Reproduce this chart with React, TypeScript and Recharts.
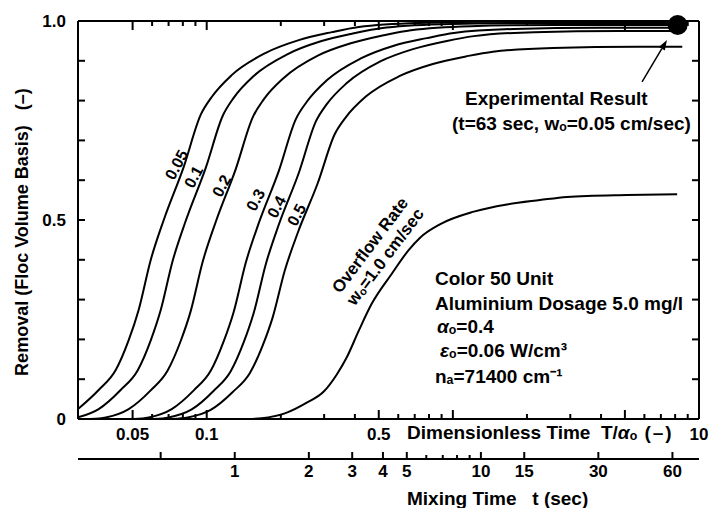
import React from "react";
import { LineChart, Line, XAxis, YAxis, ReferenceDot, ReferenceLine } from "recharts";

const FONT = '"Liberation Sans", Arial, Helvetica, sans-serif';

// removal vs dimensionless time T/a0, one curve per overflow rate w0 (cm/sec)
const w005: Array<[number, number]> = [
  [0.03, 0.025], [0.0364, 0.073], [0.0427, 0.123], [0.0482, 0.198], [0.0529, 0.274], [0.0592, 0.399],
  [0.0669, 0.5], [0.0806, 0.633], [0.0945, 0.764], [0.1048, 0.809], [0.1263, 0.864], [0.1738, 0.92],
  [0.2366, 0.952], [0.3221, 0.972], [0.4148, 0.985], [0.7276, 0.995], [1.534, 0.998], [7.9, 0.998],
];
const w01: Array<[number, number]> = [
  [0.03, 0.004], [0.0364, 0.025], [0.0447, 0.073], [0.0524, 0.122], [0.0592, 0.197], [0.065, 0.273],
  [0.0727, 0.397], [0.0822, 0.498], [0.0991, 0.631], [0.1162, 0.762], [0.1287, 0.807], [0.1553, 0.862],
  [0.2135, 0.917], [0.2907, 0.949], [0.396, 0.969], [0.5097, 0.982], [0.8938, 0.992], [1.981, 0.995], [7.9, 0.995],
];
const w02: Array<[number, number]> = [
  [0.0338, 0], [0.0389, 0.004], [0.0482, 0.025], [0.0592, 0.072], [0.0694, 0.122], [0.0784, 0.196],
  [0.0861, 0.271], [0.0963, 0.395], [0.1088, 0.495], [0.1312, 0.628], [0.1538, 0.758], [0.1705, 0.803],
  [0.2056, 0.857], [0.2827, 0.913], [0.3849, 0.944], [0.5243, 0.964], [0.675, 0.977], [1.184, 0.987],
  [2.622, 0.99], [7.9, 0.99],
];
const w03: Array<[number, number]> = [
  [0.0505, 0], [0.0581, 0.004], [0.0721, 0.025], [0.0886, 0.072], [0.1038, 0.121], [0.1172, 0.195],
  [0.1287, 0.269], [0.144, 0.392], [0.1627, 0.492], [0.1962, 0.623], [0.23, 0.753], [0.255, 0.797],
  [0.3075, 0.851], [0.4227, 0.906], [0.5756, 0.938], [0.7842, 0.957], [1.009, 0.97], [1.77, 0.98],
  [3.925, 0.983], [7.9, 0.983],
];
const w04: Array<[number, number]> = [
  [0.0609, 0], [0.0701, 0.004], [0.0869, 0.024], [0.1068, 0.071], [0.1252, 0.12], [0.1414, 0.193],
  [0.1553, 0.267], [0.1738, 0.389], [0.1962, 0.488], [0.2366, 0.618], [0.2774, 0.747], [0.3075, 0.791],
  [0.3708, 0.844], [0.5097, 0.899], [0.6942, 0.93], [0.9454, 0.95], [1.217, 0.962], [2.135, 0.972],
  [4.729, 0.975], [7.9, 0.975],
];
const w05: Array<[number, number]> = [
  [0.0727, 0], [0.0837, 0.004], [0.1038, 0.023], [0.1276, 0.068], [0.1496, 0.115], [0.1689, 0.185],
  [0.1855, 0.256], [0.2076, 0.373], [0.2344, 0.468], [0.2827, 0.593], [0.3314, 0.716], [0.3673, 0.758],
  [0.443, 0.81], [0.6088, 0.862], [0.8293, 0.892], [1.129, 0.911], [1.454, 0.923], [2.55, 0.932],
  [5.649, 0.935], [8.55, 0.935],
];
const w10: Array<[number, number]> = [
  [0.1455, 0], [0.1673, 0.002], [0.2076, 0.014], [0.255, 0.041], [0.2989, 0.069], [0.3377, 0.112],
  [0.3708, 0.155], [0.4148, 0.222], [0.4685, 0.29], [0.5649, 0.365], [0.6625, 0.425], [0.7341, 0.455],
  [0.8855, 0.489], [1.217, 0.521], [1.658, 0.539], [2.258, 0.55], [2.907, 0.558], [5.097, 0.563], [8.15, 0.565],
];

const curves = [w005, w01, w02, w03, w04, w05, w10];

// experimental point: t = 63 sec, removal ~0.99
const expTime = 63;
const expRemoval = 0.99;
// T/a0 per second of mixing time
const timeRatio = 0.13;

const dimDomain = [0.03, 10];
const mixDomain = [dimDomain[0] / timeRatio, dimDomain[1] / timeRatio];

const dimTicks = [0.05, 0.06, 0.07, 0.08, 0.09, 0.1, 0.2, 0.3, 0.4, 0.5, 0.6, 0.7, 0.8, 0.9, 1, 2, 3, 4, 5, 6, 7, 8, 9, 10];
const dimMajor = [0.05, 0.1, 0.5, 1, 5, 10];
const dimLabels: Record<string, string> = { "0.05": "0.05", "0.1": "0.1", "0.5": "0.5", "10": "10" };

const mixTicks = [0.5, 1, 2, 3, 4, 5, 6, 7, 8, 9, 10, 15, 30, 60];
const mixLabels = [1, 2, 3, 4, 5, 10, 15, 30, 60];

const yTicks = [0, 0.1, 0.2, 0.3, 0.4, 0.5, 0.6, 0.7, 0.8, 0.9, 1];
const yLabels: Record<string, string> = { "0": "0", "0.5": "0.5", "1": "1.0" };

const expPoint = [{ x: expTime, y: expRemoval }];
const expPointDim = [{ x: expTime * timeRatio, y: expRemoval }];

const axisStyle = { stroke: "#000", strokeWidth: 2 };
const tickText = { fontFamily: FONT, fontWeight: 700, fontSize: 17, fill: "#000" };

const BottomTick = (p: any) => {
  const v = p.payload.value;
  const len = dimMajor.includes(v) ? 9 : 5;
  const lab = dimLabels[String(v)];
  return (
    <g>
      <line x1={p.x} x2={p.x} y1={p.y} y2={p.y - len} stroke="#000" strokeWidth={2} />
      {lab && (
        <text x={p.x} y={p.y + 15} textAnchor="middle" dominantBaseline="central" {...tickText}>{lab}</text>
      )}
    </g>
  );
};

const TopTick = (p: any) => {
  const v = p.payload.value;
  const len = dimMajor.includes(v) ? 9 : 5;
  return <line x1={p.x} x2={p.x} y1={p.y} y2={p.y + len} stroke="#000" strokeWidth={2} />;
};

const MixTick = (p: any) => {
  const v = p.payload.value;
  const labeled = mixLabels.includes(v);
  const len = labeled || v === 0.5 ? 7 : 4;
  return (
    <g>
      <line x1={p.x} x2={p.x} y1={p.y} y2={p.y - len} stroke="#000" strokeWidth={2} />
      {labeled && (
        <text x={p.x} y={p.y + 12} textAnchor="middle" dominantBaseline="central" {...tickText}>{v}</text>
      )}
    </g>
  );
};

const LeftTick = (p: any) => {
  const v = p.payload.value;
  const lab = yLabels[String(v)];
  return (
    <g>
      <line x1={p.x} x2={p.x + 7} y1={p.y} y2={p.y} stroke="#000" strokeWidth={2} />
      {lab && (
        <text x={p.x - 12} y={p.y} textAnchor="end" dominantBaseline="central" {...tickText}>{lab}</text>
      )}
    </g>
  );
};

const RightTick = (p: any) => (
  <line x1={p.x} x2={p.x - 7} y1={p.y} y2={p.y} stroke="#000" strokeWidth={2} />
);

const Arrow = (p: any) => {
  const { x1, y1, x2, y2 } = p;
  const a = Math.atan2(y2 - y1, x2 - x1);
  const bx = x2 - 10 * Math.cos(a);
  const by = y2 - 10 * Math.sin(a);
  const s = Math.sin(a) * 3.5;
  const c = Math.cos(a) * 3.5;
  return (
    <g>
      <line x1={x1} y1={y1} x2={bx} y2={by} stroke="#000" strokeWidth={1.5} />
      <polygon points={`${x2},${y2} ${bx + s},${by - c} ${bx - s},${by + c}`} fill="#000" />
    </g>
  );
};

const Sub = ({ c }: { c: string }) => (
  <span style={{ fontSize: "0.65em", verticalAlign: "-0.1em" }}>{c}</span>
);

const base: React.CSSProperties = {
  position: "absolute",
  fontFamily: FONT,
  fontWeight: 700,
  color: "#000",
  whiteSpace: "pre",
  lineHeight: 1,
};

const at = (cx: number, cy: number, rot = 0, size = 17): React.CSSProperties => ({
  ...base,
  left: cx,
  top: cy,
  fontSize: size,
  transform: `translate(-50%, -50%) rotate(${rot}deg)`,
});

const left = (x: number, cy: number, size = 19): React.CSSProperties => ({
  ...base,
  left: x,
  top: cy,
  fontSize: size,
  transform: "translateY(-50%)",
});

const curveLabels: Array<[string, number, number]> = [
  ["0.05", 177, 165],
  ["0.1", 194, 177],
  ["0.2", 222, 186],
  ["0.3", 256, 200],
  ["0.4", 277, 207],
  ["0.5", 297, 215],
];

export default function App() {
  return (
    <div style={{ position: "absolute", left: 0, top: 0, width: 709, height: 508, background: "#fff" }}>
      <LineChart width={709} height={508} margin={{ top: 16, right: 8, bottom: 0, left: 18 }}>
        <XAxis
          dataKey="x"
          type="number"
          scale="log"
          domain={dimDomain}
          allowDataOverflow
          ticks={dimTicks}
          interval={0}
          tickSize={0}
          tickMargin={0}
          height={40}
          axisLine={axisStyle}
          tickLine={false}
          tick={<BottomTick />}
        />
        <XAxis
          xAxisId="t"
          dataKey="x"
          type="number"
          scale="log"
          domain={mixDomain}
          allowDataOverflow
          ticks={mixTicks}
          interval={0}
          tickSize={0}
          tickMargin={0}
          height={49}
          axisLine={axisStyle}
          tickLine={false}
          tick={<MixTick />}
        />
        <XAxis
          xAxisId="top"
          dataKey="x"
          orientation="top"
          type="number"
          scale="log"
          domain={dimDomain}
          allowDataOverflow
          ticks={dimTicks}
          interval={0}
          tickSize={0}
          tickMargin={0}
          height={5}
          axisLine={axisStyle}
          tickLine={false}
          tick={<TopTick />}
        />
        <YAxis
          type="number"
          domain={[0, 1]}
          allowDataOverflow
          ticks={yTicks}
          interval={0}
          width={60}
          tickSize={0}
          tickMargin={0}
          axisLine={axisStyle}
          tickLine={false}
          tick={<LeftTick />}
        />
        <YAxis
          yAxisId="r"
          orientation="right"
          type="number"
          domain={[0, 1]}
          allowDataOverflow
          ticks={yTicks}
          interval={0}
          width={2}
          tickSize={0}
          tickMargin={0}
          axisLine={axisStyle}
          tickLine={false}
          tick={<RightTick />}
        />
        {curves.map((c, i) => (
          <Line
            key={i}
            data={c.map((p) => ({ x: p[0], y: p[1] }))}
            dataKey="y"
            type="monotone"
            stroke="#000"
            strokeWidth={2}
            dot={false}
            activeDot={false}
            isAnimationActive={false}
          />
        ))}
        {/* invisible series so the mixing-time, top and right axes get their scales */}
        <Line
          xAxisId="t"
          yAxisId="r"
          data={expPoint}
          dataKey="y"
          stroke="none"
          dot={false}
          activeDot={false}
          legendType="none"
          isAnimationActive={false}
        />
        <Line
          xAxisId="top"
          data={expPointDim}
          dataKey="y"
          stroke="none"
          dot={false}
          activeDot={false}
          legendType="none"
          isAnimationActive={false}
        />
        <ReferenceLine
          segment={[
            { x: 5.87, y: 0.847 },
            { x: 7.41, y: 0.952 },
          ]}
          shape={Arrow}
        />
        <ReferenceDot x={expTime * timeRatio} y={expRemoval} r={10} fill="#000" stroke="none" />
      </LineChart>

      {curveLabels.map(([t, x, y]) => (
        <div key={t} style={at(x, y, -62, 16)}>{t}</div>
      ))}
      <div style={{ ...at(379, 252, -53, 17), textAlign: "center", lineHeight: "19px" }}>
        {"Overflow Rate\n"}w<Sub c="o" />=1.0 cm/sec
      </div>

      <div style={left(465, 98)}>Experimental Result</div>
      <div style={left(452, 124)}>
        (t=63 sec, w<Sub c="o" />=0.05 cm/sec)
      </div>

      <div style={left(435, 278)}>Color 50 Unit</div>
      <div style={left(435, 303)}>Aluminium Dosage 5.0 mg/l</div>
      <div style={left(437, 327)}>
        <i>α</i>
        <Sub c="o" />=0.4
      </div>
      <div style={left(440, 351)}>
        <i>ε</i>
        <Sub c="o" />=0.06 W/cm³
      </div>
      <div style={left(435, 377)}>
        n<Sub c="a" />=71400 cm⁻¹
      </div>

      <div style={at(22, 232, -90, 18)}>{"Removal (Floc Volume Basis)   (–)"}</div>
      <div style={left(407, 433)}>
        {"Dimensionless Time  T/"}
        <i>α</i>
        <Sub c="o" />
        <span style={{ letterSpacing: 2 }}>{" (–)"}</span>
      </div>
      <div style={left(407, 498)}>{"Mixing Time   t (sec)"}</div>
    </div>
  );
}
